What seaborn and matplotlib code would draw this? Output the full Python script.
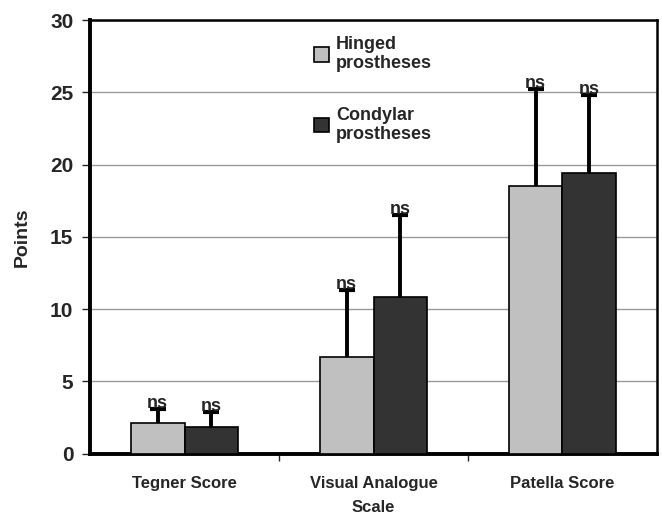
import matplotlib
matplotlib.use("Agg")
import matplotlib.pyplot as plt
from matplotlib.patches import Patch
import seaborn as sns
import pandas as pd

categories = ["Tegner Score", "Visual Analogue\nScale", "Patella Score"]
groups = ["Hinged\nprostheses", "Condylar\nprostheses"]
hinged_mean = [2.1, 6.7, 18.5]
hinged_sd = [0.95, 4.6, 6.7]
condylar_mean = [1.85, 10.8, 19.4]
condylar_sd = [1.05, 5.7, 5.4]
sig_labels = ["ns", "ns", "ns"]
colors = ["#c0c0c0", "#333333"]

sns.set_theme(style="white")
plt.rcParams["font.family"] = ["Liberation Sans", "DejaVu Sans"]
plt.rcParams["font.weight"] = "bold"

df = pd.DataFrame({
    "category": categories * 2,
    "group": [groups[0]] * 3 + [groups[1]] * 3,
    "value": hinged_mean + condylar_mean,
    "sd": hinged_sd + condylar_sd,
    "sig": sig_labels * 2,
})

fig = plt.figure(figsize=(6.62, 5.15), dpi=100)
ax = fig.add_axes([0.136, 0.1194, 0.8564, 0.8416])

sns.barplot(data=df, x="category", y="value", hue="group", order=categories,
            hue_order=groups, palette=colors, width=0.57, gap=0,
            edgecolor="black", linewidth=1.2, errorbar=None, legend=False, ax=ax,
            zorder=3)

bars = [p for p in ax.patches][:6]
for bar, (_, row) in zip(bars, df.iterrows()):
    xc = bar.get_x() + bar.get_width() / 2
    top = bar.get_height()
    ax.errorbar([xc], [top], yerr=[[0], [row["sd"]]], fmt="none",
                ecolor="black", elinewidth=2.8, capsize=0, zorder=4)
    ax.plot([xc], [top + row["sd"]], marker="_", markersize=12,
            markeredgewidth=3, color="black", zorder=4)
    ax.text(xc, top + row["sd"] - 0.2, row["sig"], ha="center", va="bottom",
            fontsize=13, fontweight="bold", zorder=5)

ax.set_ylim(0, 30)
ax.set_xlim(-0.5, 2.5)
ax.set_yticks([0, 5, 10, 15, 20, 25, 30])
ax.yaxis.grid(True, color="#999999", linewidth=1)
ax.set_axisbelow(True)
ax.set_xlabel("")
ax.set_ylabel("Points", fontsize=14, fontweight="bold", labelpad=14)
ax.tick_params(axis="y", labelsize=15, length=6, width=1, direction="out", left=True, pad=6)
ax.tick_params(axis="x", labelsize=12, length=0, pad=16)
ax.set_xticks([0.5, 1.5], minor=True)
ax.tick_params(axis="x", which="minor", length=5, width=1, direction="out", bottom=True)
for lbl in ax.get_yticklabels():
    lbl.set_fontweight("bold")
for lbl in ax.get_xticklabels():
    lbl.set_fontweight("bold")
    lbl.set_linespacing(1.75)
    lbl.set_va("top")

ax.spines["left"].set_linewidth(2.8)
ax.spines["bottom"].set_linewidth(2.8)
ax.spines["top"].set_linewidth(1.8)
ax.spines["right"].set_linewidth(1.8)
for s in ax.spines.values():
    s.set_color("black")

handles = [Patch(facecolor=colors[0], edgecolor="black", linewidth=1.2),
           Patch(facecolor=colors[1], edgecolor="black", linewidth=1.2)]
leg = fig.legend(handles, groups, loc="upper left", bbox_to_anchor=(0.45, 0.962),
                 frameon=False, handlelength=0.85, handleheight=0.85,
                 handletextpad=0.35, labelspacing=1.9,
                 prop={"weight": "bold", "size": 13})

fig.savefig("out.png", dpi=100)
